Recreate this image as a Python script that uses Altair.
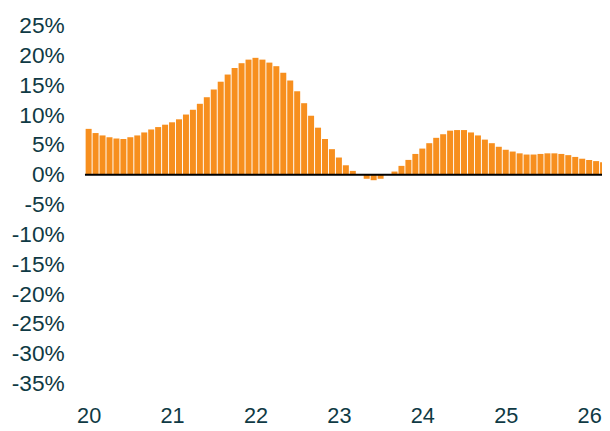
import altair as alt
import pandas as pd

# Monthly values (%), Jan 2020 onwards
values = [
    7.7, 7.0, 6.6, 6.3, 6.1, 6.0, 6.3, 6.6, 7.1, 7.6, 8.0, 8.4,
    8.8, 9.3, 10.1, 10.9, 11.9, 13.0, 14.3, 15.6, 16.8, 17.9, 18.7, 19.3,
    19.6, 19.3, 18.8, 18.2, 17.1, 15.8, 14.0, 12.0, 9.9, 7.9, 6.0, 4.3,
    2.9, 1.6, 0.66, 0.05, -0.66, -0.9, -0.66, 0.05, 0.55, 1.5, 2.5, 3.5,
    4.4, 5.3, 6.2, 6.8, 7.4, 7.5, 7.5, 7.1, 6.6, 5.9, 5.3, 4.7,
    4.2, 3.9, 3.6, 3.4, 3.4, 3.5, 3.6, 3.6, 3.5, 3.3, 3.0, 2.7,
    2.5, 2.3, 2.1,
]
start_year = 20
x_ticks = [20, 21, 22, 23, 24, 25, 26]
y_ticks = [-35, -30, -25, -20, -15, -10, -5, 0, 5, 10, 15, 20, 25]

df = pd.DataFrame({
    "t": [start_year + i / 12 for i in range(len(values))],
    "v": values,
})

TEXT = "#0f3a44"
FONT = "Liberation Sans"
xscale = alt.Scale(domain=[19.956, 26.154], nice=False, zero=False)
yscale = alt.Scale(domain=[-35, 25], nice=False)

y_axis = alt.Axis(values=y_ticks, title=None, domain=False, ticks=False,
                  grid=False, labelFontSize=23, labelColor=TEXT,
                  labelFont=FONT, labelPadding=21, labelOverlap=False,
                  labelFlush=False, labelBound=False,
                  labelExpr="datum.value + '%'")

bars = alt.Chart(df).transform_calculate(
    x1="datum.t - 0.036", x2="datum.t + 0.036"
).mark_bar(color="#f78f1e").encode(
    x=alt.X("x1:Q", scale=xscale,
            axis=alt.Axis(values=x_ticks, title=None, domain=False, ticks=False,
                          grid=False, labelFontSize=22, labelColor=TEXT,
                          labelFont=FONT, labelPadding=22, format="d",
                          labelFlush=False, labelOverlap=False)),
    x2="x2:Q",
    y=alt.Y("v:Q", scale=yscale, axis=y_axis),
    y2=alt.datum(0),
)

zero = alt.Chart(pd.DataFrame({"z": [0]})).mark_rule(color="#000000", strokeWidth=2).encode(
    y=alt.Y("z:Q", scale=yscale, axis=y_axis)
)

chart = alt.layer(bars, zero).properties(
    width=524, height=363,
    autosize=alt.AutoSizeParams(type="none"),
    padding={"left": 78, "top": 15, "right": 0, "bottom": 42},
).configure_view(stroke=None).configure_axis(labelOverlap=False)

chart.save("out.html", embed_options={"renderer": "svg", "actions": False})
